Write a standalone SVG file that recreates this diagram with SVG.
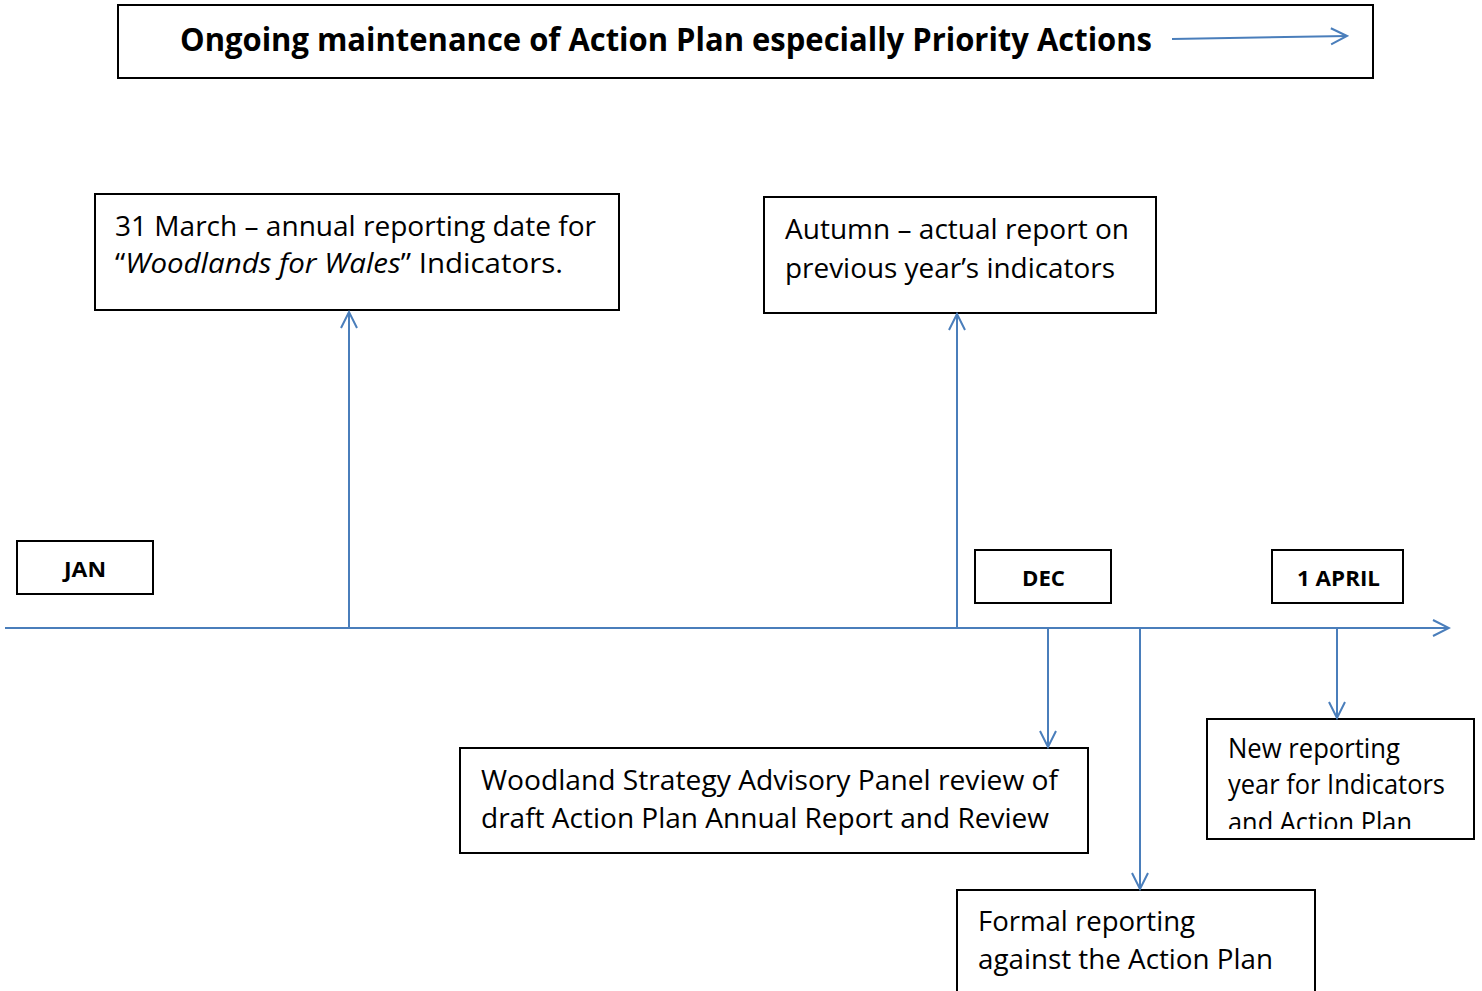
<svg xmlns="http://www.w3.org/2000/svg" width="1482" height="991" viewBox="0 0 1482 991">
<style>
.box{fill:#fff;stroke:#000;stroke-width:2}
.t{font-family:"Open Sans","Liberation Sans",sans-serif;font-size:27px;fill:#000}
.b{font-family:"Open Sans","Liberation Sans",sans-serif;font-weight:bold;fill:#000}
.c{stroke:#4a7ebb;stroke-width:2;fill:none}
</style>
<defs>
<marker id="ah" viewBox="0 0 20 20" refX="18" refY="10" markerWidth="20" markerHeight="20" markerUnits="userSpaceOnUse" orient="auto">
<path d="M2,2 L18,10 L2,18" fill="none" stroke="#4a7ebb" stroke-width="2"/>
</marker>
<clipPath id="clipNew"><rect x="1207" y="719" width="268" height="110"/></clipPath>
</defs>
<g id="top">
<rect class="box" x="118" y="5" width="1255" height="73"/>
<text class="b" x="180" y="51" font-size="33" textLength="972" lengthAdjust="spacingAndGlyphs">Ongoing maintenance of Action Plan especially Priority Actions</text>
</g>
<g id="box-march">
<rect class="box" x="95" y="194" width="524" height="116"/>
<text class="t" x="115" y="236" textLength="481" lengthAdjust="spacingAndGlyphs">31 March – annual reporting date for</text>
<text class="t" x="115" y="273" textLength="448" lengthAdjust="spacingAndGlyphs">“<tspan font-style="italic">Woodlands for Wales</tspan>” Indicators.</text>
</g>
<g id="box-autumn">
<rect class="box" x="764" y="197" width="392" height="116"/>
<text class="t" x="785" y="239" textLength="344" lengthAdjust="spacingAndGlyphs">Autumn – actual report on</text>
<text class="t" x="785" y="278" textLength="330" lengthAdjust="spacingAndGlyphs">previous year’s indicators</text>
</g>
<g id="jan">
<rect class="box" x="17" y="541" width="136" height="53"/>
<text class="b" x="85" y="577" font-size="21" text-anchor="middle" textLength="42" lengthAdjust="spacingAndGlyphs">JAN</text>
</g>
<g id="dec">
<rect class="box" x="975" y="550" width="136" height="53"/>
<text class="b" x="1043.5" y="586" font-size="21" text-anchor="middle" textLength="43" lengthAdjust="spacingAndGlyphs">DEC</text>
</g>
<g id="april">
<rect class="box" x="1272" y="550" width="131" height="53"/>
<text class="b" x="1297" y="586" font-size="21" textLength="83" lengthAdjust="spacingAndGlyphs">1 APRIL</text>
</g>
<g id="box-panel">
<rect class="box" x="460" y="748" width="628" height="105"/>
<text class="t" x="481" y="790" textLength="577" lengthAdjust="spacingAndGlyphs">Woodland Strategy Advisory Panel review of</text>
<text class="t" x="481" y="828" textLength="568" lengthAdjust="spacingAndGlyphs">draft Action Plan Annual Report and Review</text>
</g>
<g id="box-new">
<rect class="box" x="1207" y="719" width="267" height="120"/>
<g clip-path="url(#clipNew)">
<text class="t" x="1228" y="758" font-size="25" textLength="172" lengthAdjust="spacingAndGlyphs">New reporting</text>
<text class="t" x="1228" y="794" font-size="25" textLength="217" lengthAdjust="spacingAndGlyphs">year for Indicators</text>
<text class="t" x="1228" y="832" font-size="25" textLength="184" lengthAdjust="spacingAndGlyphs">and Action Plan</text>
</g>
</g>
<g id="box-formal">
<rect class="box" x="957" y="890" width="358" height="110"/>
<text class="t" x="978" y="931" textLength="217" lengthAdjust="spacingAndGlyphs">Formal reporting</text>
<text class="t" x="978" y="969" textLength="295" lengthAdjust="spacingAndGlyphs">against the Action Plan</text>
</g>
<g id="connectors">
<line class="c" x1="1172" y1="39" x2="1347" y2="36" marker-end="url(#ah)"/>
<line class="c" x1="5" y1="628" x2="1449" y2="628" marker-end="url(#ah)"/>
<line class="c" x1="349" y1="628" x2="349" y2="312" marker-end="url(#ah)"/>
<line class="c" x1="957" y1="628" x2="957" y2="314" marker-end="url(#ah)"/>
<line class="c" x1="1048" y1="628" x2="1048" y2="747" marker-end="url(#ah)"/>
<line class="c" x1="1140" y1="628" x2="1140" y2="889" marker-end="url(#ah)"/>
<line class="c" x1="1337" y1="628" x2="1337" y2="718" marker-end="url(#ah)"/>
</g>
</svg>
